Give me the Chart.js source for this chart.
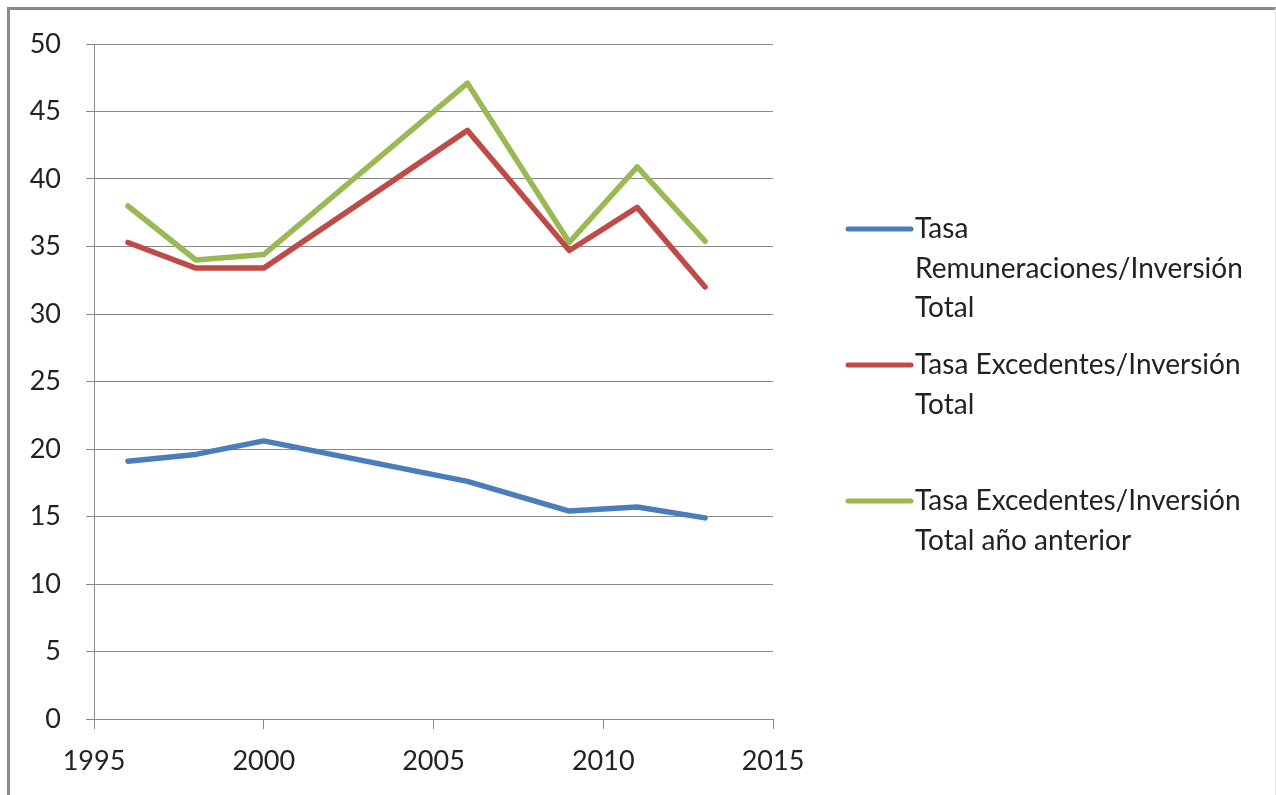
<!DOCTYPE html>
<html>
<head>
<meta charset="utf-8">
<script src="https://cdn.jsdelivr.net/npm/chart.js@4/dist/chart.umd.min.js"></script>
<style>
  body { margin: 0; background: #fff; }
  #frame {
    position: absolute; left: 7px; top: 7px;
    width: 1265px; height: 788px;
    border-top: 3px solid #8a8a8a;
    border-left: 3px solid #8a8a8a;
    border-right: 1px solid #e2e2e2;
  }
  canvas { display: block; }
</style>
</head>
<body>
<div id="frame"><canvas id="chart" width="1265" height="788"></canvas></div>
<script>
const years = [1996, 1998, 2000, 2006, 2009, 2011, 2013];
const remuneraciones = [19.1, 19.6, 20.6, 17.6, 15.4, 15.7, 14.9];
const excedentes = [35.3, 33.4, 33.4, 43.6, 34.7, 37.9, 32.0];
const excedentesAnterior = [38.0, 34.0, 34.4, 47.1, 35.3, 40.9, 35.4];
const seriesNames = [
    ['Tasa', 'Remuneraciones/Inversión', 'Total'],
    ['Tasa Excedentes/Inversión', 'Total'],
    ['Tasa Excedentes/Inversión', 'Total año anterior']
];
const seriesColors = ['#4a7ebb', '#be4b48', '#98b954'];

const font = "Lato, 'Open Sans', sans-serif";
const gridColor = '#8a8a8a';

function points(values) {
    return years.map(function (y, i) { return { x: y, y: values[i] }; });
}

// legend drawn by hand so the wrapped labels sit like in the original
const legendItemsTop = [219, 355, 491];
const sideLegend = {
    id: 'sideLegend',
    afterDraw: function (chart) {
        const ctx = chart.ctx;
        const left = chart.chartArea.right + 75;
        ctx.save();
        chart.data.datasets.forEach(function (ds, i) {
            const y = legendItemsTop[i];
            ctx.strokeStyle = ds.borderColor;
            ctx.lineWidth = 5;
            ctx.lineCap = 'round';
            ctx.beginPath();
            ctx.moveTo(left, y);
            ctx.lineTo(left + 63, y);
            ctx.stroke();
            ctx.fillStyle = '#222';
            ctx.font = '28px ' + font;
            ctx.textBaseline = 'middle';
            seriesNames[i].forEach(function (line, j) {
                ctx.fillText(line, left + 67, y + j * 39.5);
            });
        });
        ctx.restore();
    }
};

new Chart(document.getElementById('chart'), {
    type: 'line',
    data: {
        datasets: [{
            label: seriesNames[0].join(' '),
            data: points(remuneraciones),
            borderColor: seriesColors[0]
        }, {
            label: seriesNames[1].join(' '),
            data: points(excedentes),
            borderColor: seriesColors[1]
        }, {
            label: seriesNames[2].join(' '),
            data: points(excedentesAnterior),
            borderColor: seriesColors[2]
        }]
    },
    options: {
        responsive: false,
        animation: false,
        layout: { padding: { top: 34, right: 502, left: 0, bottom: 0 } },
        elements: {
            point: { radius: 0 },
            line: { borderWidth: 5.5, tension: 0, borderJoinStyle: 'round', borderCapStyle: 'round' }
        },
        plugins: {
            legend: { display: false },
            tooltip: { enabled: false }
        },
        scales: {
            x: {
                type: 'linear',
                min: 1995,
                max: 2015,
                afterFit: function (scale) { scale.height = 79; },
                ticks: {
                    stepSize: 5,
                    color: '#222',
                    padding: 16,
                    maxRotation: 0,
                    font: { family: font, size: 27 },
                    callback: function (v) { return String(v); }
                },
                grid: { drawOnChartArea: false, color: gridColor, tickLength: 10 },
                border: { color: gridColor, width: 1 }
            },
            y: {
                min: 0,
                max: 50,
                afterFit: function (scale) {
                    scale.width = 84;
                    // the tick padding should not push the plot down
                    scale.paddingTop = 16;
                    scale.paddingBottom = 16;
                },
                ticks: {
                    stepSize: 5,
                    color: '#222',
                    padding: 25,
                    font: { family: font, size: 27 }
                },
                grid: { color: gridColor, tickLength: 8 },
                border: { color: gridColor, width: 1 }
            }
        }
    },
    plugins: [sideLegend]
});
</script>
</body>
</html>
